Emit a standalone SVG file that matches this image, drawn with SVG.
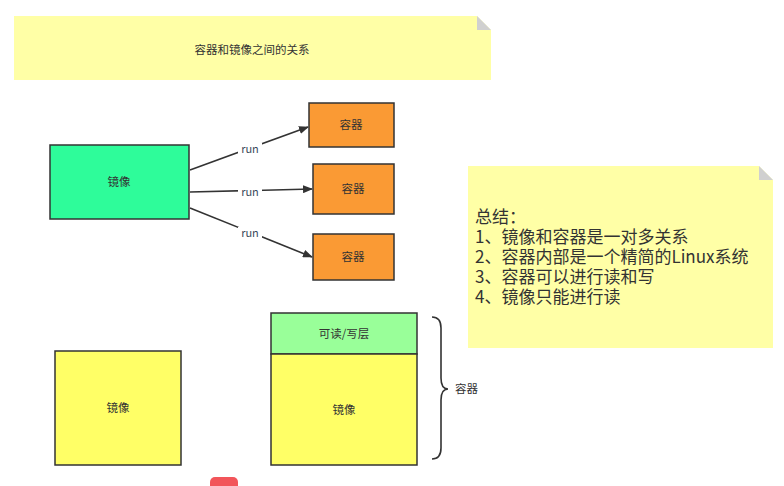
<svg xmlns="http://www.w3.org/2000/svg" width="784" height="486" viewBox="0 0 784 486">
<defs>
<marker id="arr" markerWidth="10" markerHeight="8" refX="9" refY="4" orient="auto" markerUnits="userSpaceOnUse">
<path d="M0,0 L10,4 L0,8 Z" fill="#333"/>
</marker>
<style>
text{font-family:"Noto Sans CJK SC","Liberation Sans",sans-serif;fill:#333}
.s{font-size:11.5px}
.note{fill:#FFFFA6}
.fold{fill:#D0D0D0}
.box{stroke:#333;stroke-width:1.5}
.conn{stroke:#333;stroke-width:1.6;fill:none}
.lbl{font-size:11px;fill:#3A4A5A}
.big{font-size:17px}
</style>
</defs>
<rect width="784" height="486" fill="#fff"/>
<g id="title">
<path class="note" d="M14,16 H477 L491,30 V80 H14 Z"/>
<path class="fold" d="M477,16 L491,30 H477 Z"/>
<text class="s" x="252" y="54" text-anchor="middle">容器和镜像之间的关系</text>
</g>
<g id="image1">
<rect class="box" x="50" y="145" width="139" height="74" fill="#2EFC9A"/>
<text class="s" x="119" y="186" text-anchor="middle">镜像</text>
</g>
<g id="container1">
<rect class="box" x="309" y="103" width="85" height="44" fill="#FA9A34"/>
<text class="s" x="351" y="129" text-anchor="middle">容器</text>
</g>
<g id="container2">
<rect class="box" x="313" y="164" width="81" height="50" fill="#FA9A34"/>
<text class="s" x="353" y="193" text-anchor="middle">容器</text>
</g>
<g id="container3">
<rect class="box" x="313" y="234" width="81" height="46" fill="#FA9A34"/>
<text class="s" x="353" y="261" text-anchor="middle">容器</text>
</g>
<g id="connectors">
<line class="conn" x1="190" y1="170" x2="308" y2="127" marker-end="url(#arr)"/>
<line class="conn" x1="190" y1="192" x2="312" y2="189" marker-end="url(#arr)"/>
<line class="conn" x1="190" y1="208" x2="312" y2="257" marker-end="url(#arr)"/>
<rect x="238" y="143" width="24" height="12" fill="#fff"/>
<text class="lbl" x="250" y="153" text-anchor="middle">run</text>
<rect x="238" y="186" width="24" height="12" fill="#fff"/>
<text class="lbl" x="250" y="196" text-anchor="middle">run</text>
<rect x="238" y="227" width="24" height="12" fill="#fff"/>
<text class="lbl" x="250" y="237" text-anchor="middle">run</text>
</g>
<g id="summary">
<path class="note" d="M468,166 H759 L773,180 V348 H468 Z"/>
<path class="fold" d="M759,166 L773,180 H759 Z"/>
<text class="big" x="475" y="223">总结：</text>
<text class="big" x="475" y="243">1、镜像和容器是一对多关系</text>
<text class="big" x="475" y="263">2、容器内部是一个精简的Linux系统</text>
<text class="big" x="475" y="283">3、容器可以进行读和写</text>
<text class="big" x="475" y="303">4、镜像只能进行读</text>
</g>
<g id="image2">
<rect class="box" x="55" y="351" width="126" height="114" fill="#FFFF66"/>
<text class="s" x="118" y="412" text-anchor="middle">镜像</text>
</g>
<g id="rwlayer">
<rect class="box" x="271" y="313" width="146" height="41" fill="#99FF99"/>
<text class="s" x="344" y="338" text-anchor="middle">可读/写层</text>
</g>
<g id="image3">
<rect class="box" x="271" y="354" width="146" height="111" fill="#FFFF66"/>
<text class="s" x="344" y="414" text-anchor="middle">镜像</text>
</g>
<g id="brace">
<path class="conn" d="M432,317 Q441,317 441,328 V378 Q441,389 448,389 Q441,389 441,400 V448 Q441,459 432,459"/>
<text class="s" x="455" y="393">容器</text>
</g>
<rect x="210" y="477" width="28" height="20" rx="5" fill="#F2555A"/>
</svg>
